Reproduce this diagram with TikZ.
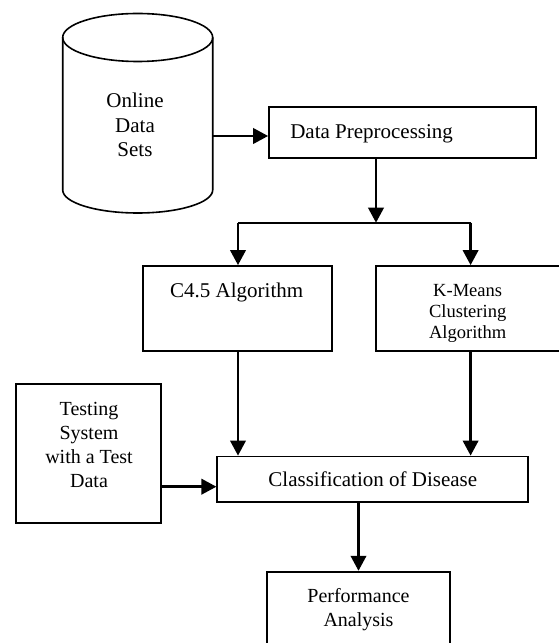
\documentclass[tikz,border=0pt]{standalone}
\usepackage{fontspec}
\setmainfont{Liberation Serif}
\usetikzlibrary{arrows.meta}
\begin{document}
\begin{tikzpicture}[x=0.75pt,y=0.75pt,
  box/.style={draw, line width=1.35pt, rectangle, inner sep=0pt},
  lbl/.style={inner sep=0pt, anchor=base, align=center},
  flow/.style={line width=1.8pt, -{Triangle[length=11.25pt,width=11.6pt]}},
  link/.style={line width=1.3pt},
  big/.style={font=\fontsize{15.75pt}{18.2pt}\selectfont},
  mid/.style={font=\fontsize{15pt}{18.1pt}\selectfont},
  small/.style={font=\fontsize{13.9pt}{15.6pt}\selectfont}]
\useasboundingbox (0,0) rectangle (558,643);

% data store drawn as a cylinder
\draw[line width=1.2pt] (62.7,605.5) -- (62.7,453)
  arc[start angle=180, end angle=360, x radius=75, y radius=23] -- (212.7,605.5);
\draw[line width=1.2pt] (137.7,605.5) ellipse [x radius=75, y radius=24];
\coordinate (cyl) at (212.7,507);
% multi-line labels sit on the baseline of their last line
\node[lbl, big] (cyltxt) at (135,486.5) {Online\\Data\\Sets};

% process boxes
\node[box, minimum width=200pt, minimum height=38.7pt] (dp) at (402.35,510.5) {};
\node[lbl, big, anchor=base west] (dptxt) at (290,504.7) {Data Preprocessing};

\node[box, minimum width=142pt, minimum height=63.75pt] (c45) at (237.35,334.5) {};
\node[lbl, big] (c45txt) at (236.7,345.8) {C4.5 Algorithm};

\node[box, minimum width=138.75pt, minimum height=63.75pt] (km) at (468.5,334.5) {};
\node[lbl, small] (kmtxt) at (467.7,304.8) {K-Means\\Clustering\\Algorithm};

\node[box, minimum width=233.25pt, minimum height=34.35pt] (cls) at (372.8,163.6) {};
\node[lbl, big] (clstxt) at (372.8,156.8) {Classification of Disease};

\node[box, minimum width=108.9pt, minimum height=104pt] (tst) at (88.6,189.65) {};
\node[lbl, mid] (tsttxt) at (89,155.5) {Testing\\System\\with a Test\\Data};

\node[box, minimum width=137.7pt, minimum height=61pt] (perf) at (358.5,30.65) {};
\node[lbl, mid] (perftxt) at (358.5,16.4) {Performance\\Analysis};

% connectors
\draw[flow] (cyl) -- (cyl -| dp.west);
\coordinate (split) at (376,420.3);
\coordinate (jl) at (238,420.3);
\coordinate (jr) at (470.6,420.3);
\draw[flow] (split |- dp.south) -- (split);
\draw[link] (jl) -- (jr);
\draw[flow] (jl) -- (jl |- c45.north);
\draw[flow] (jr) -- (jr |- km.north);
\draw[flow] (jl |- c45.south) -- (jl |- cls.north);
\draw[flow] (jr |- km.south) -- (jr |- cls.north);
\coordinate (tin) at (161.2,156.3);
\draw[flow] (tin) -- (tin -| cls.west);
\draw[flow] (perf.north |- cls.south) -- (perf.north);
\end{tikzpicture}
\end{document}
